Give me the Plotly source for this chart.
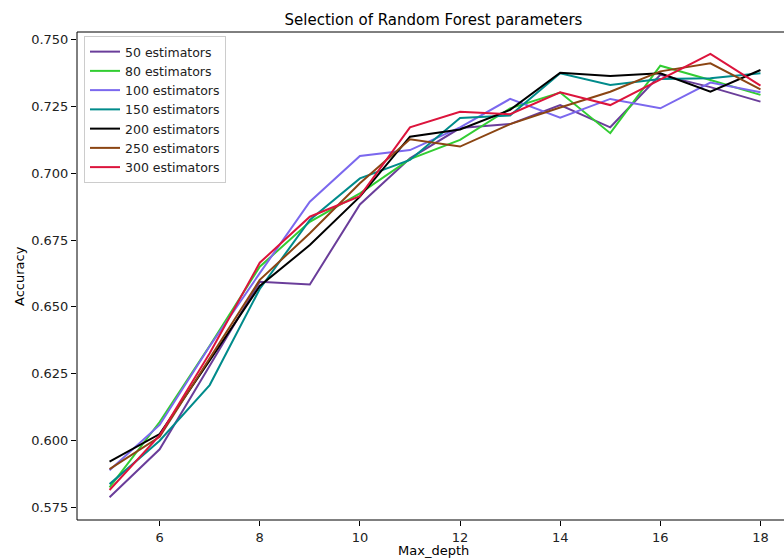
import plotly.graph_objects as go

max_depth = [5, 6, 7, 8, 9, 10, 11, 12, 13, 14, 15, 16, 17, 18]

acc_50 = [0.5789, 0.5968, 0.6280, 0.6594, 0.6584, 0.6883, 0.7055, 0.7168, 0.7183, 0.7254, 0.7171, 0.7367, 0.7321, 0.7267]
acc_80 = [0.5826, 0.6070, 0.6355, 0.6650, 0.6818, 0.6924, 0.7052, 0.7124, 0.7242, 0.7301, 0.7149, 0.7401, 0.7348, 0.7292]
acc_100 = [0.5890, 0.6059, 0.6353, 0.6626, 0.6893, 0.7064, 0.7086, 0.7171, 0.7277, 0.7207, 0.7277, 0.7242, 0.7338, 0.7302]
acc_150 = [0.5838, 0.6000, 0.6208, 0.6567, 0.6825, 0.6980, 0.7049, 0.7206, 0.7215, 0.7373, 0.7329, 0.7351, 0.7354, 0.7373]
acc_200 = [0.5922, 0.6025, 0.6300, 0.6578, 0.6731, 0.6912, 0.7136, 0.7163, 0.7236, 0.7375, 0.7363, 0.7373, 0.7304, 0.7385]
acc_250 = [0.5894, 0.6015, 0.6308, 0.6601, 0.6775, 0.6962, 0.7126, 0.7099, 0.7183, 0.7245, 0.7304, 0.7380, 0.7410, 0.7313]
acc_300 = [0.5816, 0.6020, 0.6327, 0.6665, 0.6837, 0.6914, 0.7171, 0.7229, 0.7220, 0.7302, 0.7254, 0.7350, 0.7445, 0.7327]

series_names = ["50 estimators", "80 estimators", "100 estimators", "150 estimators",
                "200 estimators", "250 estimators", "300 estimators"]
series_values = [acc_50, acc_80, acc_100, acc_150, acc_200, acc_250, acc_300]
series_colors = ["#6a3d9a", "#32cd32", "#7b68ee", "#008b8b", "#000000", "#8b4513", "#dc143c"]

y_ticks = [0.575, 0.600, 0.625, 0.650, 0.675, 0.700, 0.725, 0.750]
x_ticks = [6, 8, 10, 12, 14, 16, 18]

FONT = "DejaVu Sans"

W, H = 784, 558
L, T, R, B = 77, 32, 0, 38
PW, PH = W - L - R, H - T - B

fig = go.Figure()
for name, vals, col in zip(series_names, series_values, series_colors):
    fig.add_trace(go.Scatter(x=max_depth, y=vals, mode="lines", name=name,
                             line=dict(color=col, width=2)))

cx = (433.5 - L) / PW

fig.update_layout(
    width=W, height=H,
    margin=dict(l=L, r=R, t=T, b=B, autoexpand=False),
    paper_bgcolor="white", plot_bgcolor="white",
    font=dict(family=FONT, size=13, color="black"),
    title=dict(text="Selection of Random Forest parameters", x=cx, xref="paper",
               y=1 - 20 / H, yref="container", xanchor="center", yanchor="middle",
               font=dict(family=FONT, size=15, color="black")),
    showlegend=True,
    legend=dict(x=(84 - L) / PW, y=1 - (36 - T) / PH, xanchor="left", yanchor="top",
                bgcolor="rgba(255,255,255,0.8)", bordercolor="#cccccc", borderwidth=1,
                font=dict(family=FONT, size=12.5, color="#222222"),
                tracegroupgap=0, itemwidth=30),
    xaxis=dict(range=[4.35, 18.47], tickvals=x_ticks, ticks="outside", ticklen=5,
               tickcolor="black", showgrid=False, zeroline=False, showline=False,
               automargin=False,
               tickfont=dict(family=FONT, size=13, color="#222222")),
    yaxis=dict(range=[0.5704, 0.7527], tickvals=y_ticks, tickformat=".3f",
               ticks="outside", ticklen=5, tickcolor="black", showgrid=False,
               zeroline=False, showline=False, automargin=False,
               tickfont=dict(family=FONT, size=13, color="#222222")),
    shapes=[dict(type="rect", xref="paper", yref="paper", x0=0, x1=1.05, y0=0, y1=1,
                 line=dict(color="black", width=1), fillcolor="rgba(0,0,0,0)", layer="above")],
    annotations=[
        dict(text="Max_depth", xref="paper", yref="paper", x=cx,
             y=-(550 - (H - B)) / PH,
             xanchor="center", yanchor="middle", showarrow=False,
             font=dict(family=FONT, size=13, color="black")),
        dict(text="Accuracy", xref="paper", yref="paper", x=(19 - L) / PW, y=0.5,
             xanchor="center", yanchor="middle", showarrow=False, textangle=-90,
             font=dict(family=FONT, size=13, color="black")),
    ],
)

fig.write_html(
    "out.html",
    config={"displayModeBar": False},
    post_script="document.body.style.margin='0';"
                "document.documentElement.style.overflow='hidden';"
                "document.body.style.overflow='hidden';",
)
